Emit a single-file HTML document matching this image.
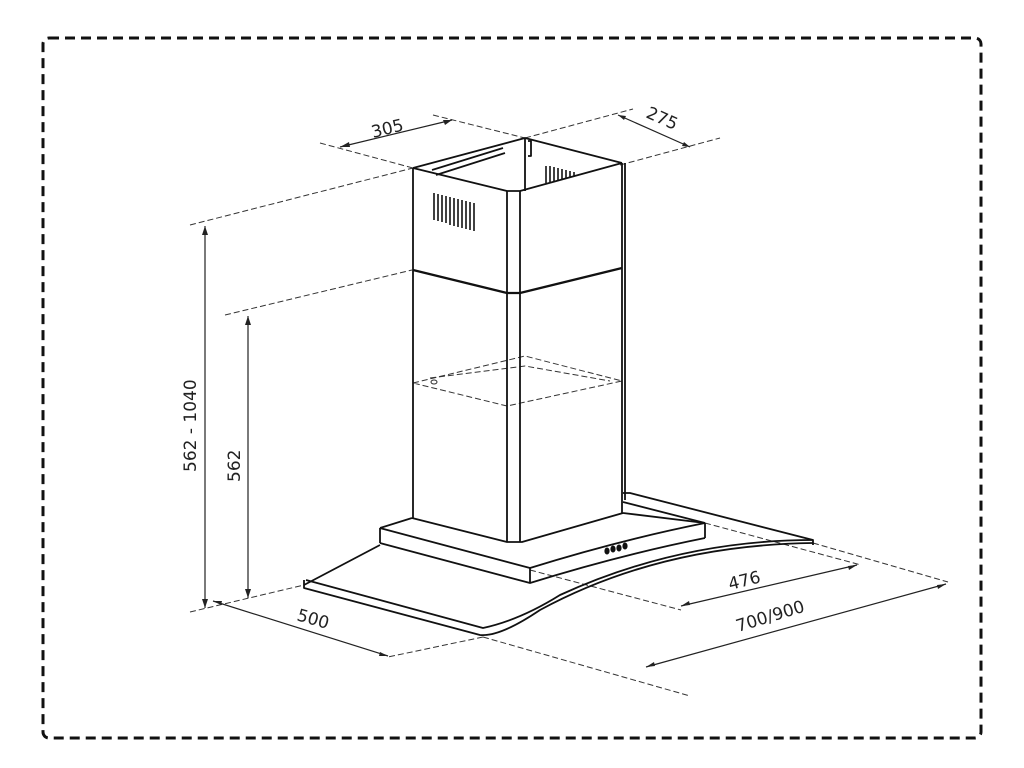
<!DOCTYPE html>
<html><head><meta charset="utf-8"><style>
html,body{margin:0;padding:0;background:#fff;}
svg{display:block;}
text{font-family:"DejaVu Sans","Liberation Sans",sans-serif;font-size:17px;fill:#222;}
</style></head><body>
<svg width="1024" height="768" viewBox="0 0 1024 768" xmlns="http://www.w3.org/2000/svg">
<rect x="43" y="38" width="938" height="700" rx="6" fill="none" stroke="#111" stroke-width="3" stroke-dasharray="10,6"/>
<g fill="none" stroke="#333" stroke-width="1" stroke-dasharray="6,3">
<line x1="190" y1="225" x2="413" y2="168"/>
<line x1="225" y1="315" x2="412" y2="270"/>
<line x1="320" y1="143" x2="413" y2="168"/>
<line x1="433" y1="115" x2="525" y2="138"/>
<line x1="525" y1="138" x2="633" y2="109"/>
<line x1="620" y1="165" x2="720" y2="138"/>
<line x1="190" y1="612" x2="304" y2="585"/>
<line x1="483" y1="637" x2="690" y2="696"/>
<line x1="483" y1="637" x2="388" y2="657"/>
<line x1="530" y1="570" x2="681" y2="610"/>
<line x1="705" y1="523" x2="861" y2="565"/>
<line x1="813" y1="543" x2="948" y2="582"/>
<path d="M413 383 L525 356 L622 381 L507 406 Z"/>
<path d="M430 378 L525 366 L610 381"/>
</g>
<g fill="none" stroke="#222" stroke-width="1.2">
<line x1="205" y1="226" x2="205" y2="608"/>
<line x1="248" y1="316" x2="248" y2="598"/>
<line x1="340" y1="147" x2="452" y2="120"/>
<line x1="618" y1="115" x2="690" y2="147"/>
<line x1="213" y1="601" x2="388" y2="656"/>
<line x1="681" y1="606" x2="857" y2="565"/>
<line x1="646" y1="667" x2="946" y2="584"/>
</g>
<g fill="#222">
<path d="M205 226 l-3 9 h6z"/><path d="M205 608 l-3 -9 h6z"/>
<path d="M248 316 l-3 9 h6z"/><path d="M248 598 l-3 -9 h6z"/>
<path d="M340 147 l9 -5 l1 5z"/><path d="M452 120 l-9 0 l2 5z"/>
<path d="M618 115 l8 1 l-2 4z"/><path d="M690 147 l-8 -1 l2 -4z"/>
<path d="M213 601 l9 0 l-1 4z"/><path d="M388 656 l-9 0 l1 -4z"/>
<path d="M681 606 l8 -5 l1 4z"/><path d="M857 565 l-8 5 l-1 -4z"/>
<path d="M646 667 l8 -5 l1 4z"/><path d="M946 584 l-8 5 l-1 -4z"/>
</g>
<g fill="none" stroke="#111" stroke-width="1.8" stroke-linejoin="round">
<path d="M413 168 L507 191 L520 191 L622 163"/>
<path d="M413 168 L525 138 L622 163"/>
<line x1="525" y1="138" x2="525" y2="191"/>
<line x1="413" y1="168" x2="413" y2="518"/>
<line x1="507" y1="191" x2="507" y2="542"/>
<line x1="520" y1="191" x2="520" y2="542"/>
<line x1="622" y1="163" x2="622" y2="513"/>
<line x1="625" y1="163" x2="625" y2="500"/>
<path d="M413 270 L507 293 L520 293 L622 268" stroke-width="2.2"/>
<path d="M412 518 L507 542 L522 542 L623 513"/>
<path d="M432 170 L503 148 M436 175 L505 153"/>
<path d="M528 141 L531 141 L531 156 L528 156"/>
<path d="M380 528 L412 518 M623 513 L705 523"/>
<path d="M380 528 L530 568 Q620 540 705 523"/>
<path d="M380 543 L530 583 Q620 555 705 538"/>
<line x1="380" y1="528" x2="380" y2="543"/>
<line x1="530" y1="568" x2="530" y2="583"/>
<line x1="705" y1="523" x2="705" y2="538"/>
<path d="M623 493 L630 493 L813 540 L813 545"/>
<path d="M623 502 L705 523"/>
<path d="M304 585 L380 545"/>
<path d="M304 580 L304 588 L480 635 Q500 637 540 610 Q660 545 813 543"/>
<path d="M306 580 L483 628 Q520 620 560 595 Q680 540 813 540"/>
</g>
<g stroke="#111" stroke-width="1.6">
<line x1="434" y1="193" x2="434" y2="220"/><line x1="438" y1="194" x2="438" y2="221"/>
<line x1="442" y1="195" x2="442" y2="222"/><line x1="446" y1="196" x2="446" y2="223"/>
<line x1="450" y1="197" x2="450" y2="225"/><line x1="454" y1="198" x2="454" y2="226"/>
<line x1="458" y1="199" x2="458" y2="227"/><line x1="462" y1="200" x2="462" y2="228"/>
<line x1="466" y1="201" x2="466" y2="229"/><line x1="470" y1="202" x2="470" y2="230"/>
<line x1="474" y1="203" x2="474" y2="231"/>
<line x1="546" y1="166" x2="546" y2="183"/><line x1="550" y1="166" x2="550" y2="182"/>
<line x1="554" y1="167" x2="554" y2="181"/><line x1="558" y1="168" x2="558" y2="180"/>
<line x1="562" y1="169" x2="562" y2="179"/><line x1="566" y1="170" x2="566" y2="178"/>
<line x1="570" y1="171" x2="570" y2="177"/><line x1="574" y1="172" x2="574" y2="176"/>
</g>
<g fill="#111">
<ellipse cx="607" cy="551" rx="2.6" ry="3.5"/><ellipse cx="613" cy="549" rx="2.6" ry="3.5"/>
<ellipse cx="619" cy="548" rx="2.6" ry="3.5"/><ellipse cx="625" cy="546" rx="2.6" ry="3.5"/>
</g>
<ellipse cx="434" cy="382" rx="3" ry="2" fill="none" stroke="#333"/>
<text transform="translate(373,138) rotate(-14)">305</text>
<text transform="translate(645,117) rotate(24)">275</text>
<text transform="translate(196,472) rotate(-90)">562 - 1040</text>
<text transform="translate(240,482) rotate(-90)">562</text>
<text transform="translate(296,620) rotate(16)">500</text>
<text transform="translate(730,590) rotate(-14)">476</text>
<text transform="translate(738,632) rotate(-17)">700/900</text>
</svg>
</body></html>
